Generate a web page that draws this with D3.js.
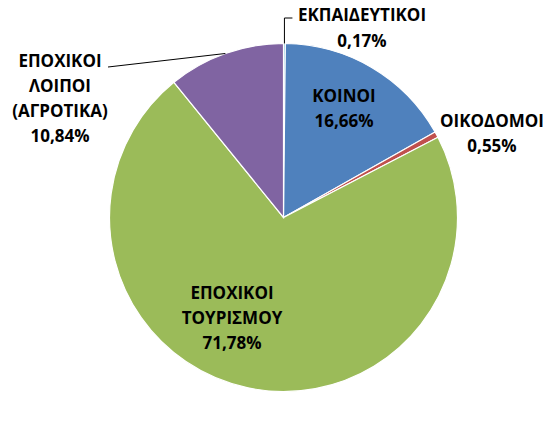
<!DOCTYPE html>
<html>
<head>
<meta charset="utf-8">
<script src="https://cdn.jsdelivr.net/npm/d3@7"></script>
<style>
  body { margin: 0; background: #fff; }
  svg { display: block; }
  text { font-family: "Open Sans", Lato, sans-serif; font-weight: bold; font-size: 17px; fill: #000; }
</style>
</head>
<body>
<div class="chart"></div>
<script>
const categories = ["ΕΚΠΑΙΔΕΥΤΙΚΟΙ", "ΚΟΙΝΟΙ", "ΟΙΚΟΔΟΜΟΙ", "ΕΠΟΧΙΚΟΙ ΤΟΥΡΙΣΜΟΥ", "ΕΠΟΧΙΚΟΙ ΛΟΙΠΟΙ (ΑΓΡΟΤΙΚΑ)"];
const values = [0.17, 16.66, 0.55, 71.78, 10.84];
const valueLabels = ["0,17%", "16,66%", "0,55%", "71,78%", "10,84%"];
const labelLines = [
    ["ΕΚΠΑΙΔΕΥΤΙΚΟΙ"],
    ["ΚΟΙΝΟΙ"],
    ["ΟΙΚΟΔΟΜΟΙ"],
    ["ΕΠΟΧΙΚΟΙ", "ΤΟΥΡΙΣΜΟΥ"],
    ["ΕΠΟΧΙΚΟΙ", "ΛΟΙΠΟΙ", "(ΑΓΡΟΤΙΚΑ)"]
];
const colors = ["#4BACC6", "#4F81BD", "#C0504D", "#9BBB59", "#8064A2"];

// label centres (first line), picked to match the original layout
const labelAt = [[362, 16], [344, 97], [492, 122], [232, 294], [60, 62]];

const width = 557, height = 427;
const cx = 283.5, cy = 217.5, radius = 174;

const svg = d3.select(".chart")
    .append("svg")
    .attr("width", width)
    .attr("height", height);

const g = svg.append("g")
    .attr("transform", `translate(${cx}, ${cy})`);

const pie = d3.pie().sort(null).value(d => d);
const arcs = pie(values);

const arc = d3.arc().innerRadius(0).outerRadius(radius);

g.selectAll("path")
    .data(arcs)
    .enter()
    .append("path")
    .attr("d", arc)
    .attr("fill", (d, i) => colors[i])
    .attr("stroke", "#fff")
    .attr("stroke-width", 1.2);

function edgePoint(d) {
    const a = (d.startAngle + d.endAngle) / 2;
    return [cx + radius * Math.sin(a), cy - radius * Math.cos(a)];
}

// leader lines for the two labels outside the pie
const lineGen = d3.line();
const p0 = edgePoint(arcs[0]);
svg.append("path")
    .attr("d", lineGen([p0, [p0[0], 18], [p0[0] + 8, 18]]))
    .attr("fill", "none")
    .attr("stroke", "#000")
    .attr("stroke-width", 1);

const p4 = edgePoint(arcs[4]);
svg.append("path")
    .attr("d", lineGen([[108, 67], p4]))
    .attr("fill", "none")
    .attr("stroke", "#000")
    .attr("stroke-width", 1);

const lineH = 25;
categories.forEach((c, i) => {
    const lines = labelLines[i].concat([valueLabels[i]]);
    const t = svg.append("text")
        .attr("text-anchor", "middle");
    lines.forEach((l, j) => {
        t.append("tspan")
            .attr("x", labelAt[i][0])
            .attr("y", labelAt[i][1] + j * (i === 0 ? 26 : lineH))
            .attr("dominant-baseline", "middle")
            .text(l);
    });
});
</script>
</body>
</html>
